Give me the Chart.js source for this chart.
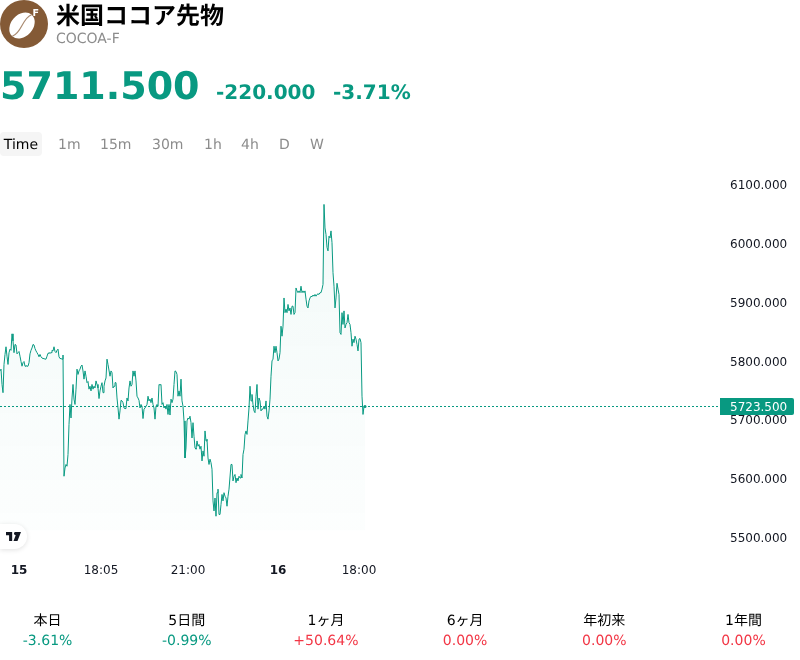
<!DOCTYPE html>
<html lang="ja">
<head>
<meta charset="utf-8">
<title>米国ココア先物</title>
<script src="https://cdn.jsdelivr.net/npm/chart.js@4"></script>
<style>
  html, body { margin: 0; padding: 0; background: #fff; }
  body { width: 800px; height: 660px; position: relative; overflow: hidden;
         font-family: "DejaVu Sans", "Noto Sans CJK JP", sans-serif; color: #000;
         text-rendering: geometricPrecision; }
  .abs { position: absolute; white-space: nowrap; will-change: transform; }
  #logo { left: 0; top: 0; }
  #title { left: 56px; top: 1px; font-size: 24px; line-height: 31px; font-weight: 700; }
  #ticker { left: 56px; top: 31px; font-size: 14px; line-height: 17px; color: #8c8c8c; }
  .quote { color: #089981; font-weight: 700; }
  #last { left: 0; top: 62px; font-size: 38px; line-height: 48px; }
  #chg { left: 216px; top: 79px; font-size: 20px; line-height: 26px; }
  #pct { left: 333px; top: 79px; font-size: 20px; line-height: 26px; }
  #tabs { left: 0; top: 132px; height: 24px; font-size: 14px; line-height: 26px; }
  #tabs span { position: absolute; top: 0; color: #8c8c8c; }
  #tabs span.on { left: 0; width: 42px; height: 24px; text-align: center; color: #000;
                  background: #f5f5f5; border-radius: 4px; }
  #chart { position: absolute; left: 0; top: 165px; }
  #tv { left: 0; top: 524px; width: 27px; height: 25px; background: #fff;
        border-radius: 0 13px 13px 0; box-shadow: 0 1px 5px rgba(0,0,0,.12); }
  #periods { left: -22px; top: 611px; width: 835px; display: flex; font-size: 14px; line-height: 20px; text-align: center; }
  #periods div { flex: 1; }
</style>
</head>
<body>
<svg id="logo" class="abs" width="48" height="48" viewBox="0 0 48 48">
  <circle cx="24" cy="24" r="24" fill="#845a36"/>
  <g transform="rotate(42 22 25.5)">
    <ellipse cx="22" cy="25.5" rx="11" ry="14.5" fill="#fff"/>
    <path d="M22 11 C17 20 27 31 22 40" fill="none" stroke="#a98a70" stroke-width="1.2"/>
  </g>
  <text x="32.5" y="16" font-family="DejaVu Sans" font-weight="700" font-size="9.5" fill="#fff">F</text>
</svg>
<div id="title" class="abs">米国ココア先物</div>
<div id="ticker" class="abs">COCOA-F</div>
<div id="last" class="abs quote">5711.500</div>
<div id="chg" class="abs quote">-220.000</div>
<div id="pct" class="abs quote">-3.71%</div>
<div id="tabs" class="abs"></div>
<canvas id="chart" width="794" height="415"></canvas>
<div id="tv" class="abs">
  <svg width="15" height="9" viewBox="0 0 17 10" style="position:absolute;left:6px;top:8px">
    <path d="M0 0H7V10H3.5V3.5H0Z M11.5 0H17L13 10H8.5L11 3.5 A2 2 0 0 1 9 1.7 A1.8 1.8 0 0 1 11.5 0Z" fill="#131722"/>
  </svg>
</div>
<div id="periods" class="abs"></div>

<script>
// tick labels and header rows
const yTicks = [5500, 5600, 5700, 5800, 5900, 6000, 6100];
const xTickBars = [19, 101, 188, 278, 359];
const xTickLabels = ['15', '18:05', '21:00', '16', '18:00'];
const xBoldLabels = ['15', '16'];
const intervals = ['Time', '1m', '15m', '30m', '1h', '4h', 'D', 'W'];
const intervalLeft = [0, 58, 100, 152, 204, 241, 279, 310];
const periodNames = ['本日', '5日間', '1ヶ月', '6ヶ月', '年初来', '1年間'];
const periodChanges = ['-3.61%', '-0.99%', '+50.64%', '0.00%', '0.00%', '0.00%'];

// one price per bar, session by session
const pricesOpen = [
  5784, 5787, 5761, 5747, 5795, 5812, 5825, 5809, 5795, 5815, 5821, 5819, 5847, 5835, 5815, 5829,
  5828, 5813, 5815, 5817, 5809, 5800, 5792, 5798, 5800, 5792, 5793, 5792, 5792, 5798, 5813, 5819,
  5823, 5829, 5828, 5822, 5818, 5815, 5812, 5808, 5812, 5808, 5806, 5805, 5805, 5804, 5804, 5809,
  5814, 5815, 5814, 5815, 5819, 5818, 5825, 5817, 5815, 5819, 5821, 5808, 5805, 5805, 5804, 5811
];
const pricesEvening = [
  5605, 5619, 5625, 5622, 5642, 5693, 5727, 5704, 5738, 5761, 5736, 5727, 5753, 5787, 5778, 5784,
  5787, 5792, 5794, 5784, 5770, 5784, 5775, 5764, 5766, 5753, 5758, 5750, 5761, 5753, 5758, 5755,
  5767, 5761, 5755, 5737, 5750, 5758, 5764, 5747, 5758, 5767, 5772, 5804, 5795, 5795, 5775, 5784,
  5781, 5755, 5758, 5764, 5764, 5738, 5721, 5702, 5716, 5734, 5733, 5730, 5721, 5720, 5721, 5738,
  5733, 5755, 5767,
  5758, 5761, 5784, 5775, 5784, 5767, 5741, 5738, 5734, 5721, 5727, 5724, 5703, 5719, 5721, 5724,
  5727, 5741, 5733, 5736, 5730, 5738, 5727, 5721, 5702, 5724, 5727, 5724, 5761, 5760, 5761, 5727,
  5730, 5721, 5724, 5719, 5727, 5710, 5727, 5709, 5736, 5730, 5736, 5761, 5784, 5783, 5778, 5741,
  5750, 5741, 5770, 5733, 5724, 5699, 5636, 5653, 5699, 5704, 5702, 5707, 5696, 5670, 5696, 5673,
  5653, 5651, 5665, 5656, 5659, 5651, 5656, 5631, 5648, 5639, 5682, 5665, 5668, 5636, 5625, 5634,
  5628, 5617
];
const pricesNight = [
  5563, 5546, 5568, 5537, 5577, 5583, 5540, 5540, 5557, 5574, 5563, 5577, 5571, 5568, 5554, 5571,
  5583, 5583, 5625, 5625, 5597, 5605, 5608, 5594, 5602, 5597, 5605, 5602, 5608, 5602, 5642, 5651,
  5676, 5682, 5676, 5699, 5721, 5758, 5733, 5744, 5727, 5716, 5713
];
const pricesNextDay = [
  5741, 5761, 5719, 5738, 5733, 5716, 5719, 5719, 5724, 5719, 5733, 5707, 5702, 5716, 5736, 5775,
  5801, 5804, 5826, 5815, 5826, 5815, 5801, 5804, 5815, 5860, 5843, 5860, 5908, 5883, 5889, 5883,
  5897, 5886, 5891, 5880, 5894, 5894, 5880, 5883, 5925, 5920, 5917, 5920, 5917, 5928, 5917, 5920,
  5917, 5920, 5906, 5894, 5891, 5903, 5908, 5911, 5910, 5913, 5911, 5914, 5911, 5914, 5915, 5914,
  5917, 5917, 5923, 5931, 6067, 6027, 6016, 5994, 5988, 6013, 6010, 6022, 6002, 5951, 5928, 5891,
  5908, 5933, 5923, 5914, 5849, 5846, 5883, 5863, 5886, 5857, 5863, 5866, 5880, 5866, 5863, 5849,
  5826, 5838, 5832, 5843, 5838, 5829, 5818, 5838, 5839, 5832, 5741, 5710, 5724, 5723.5
];
const prices = [...pricesOpen, ...pricesEvening, ...pricesNight, ...pricesNextDay];
const lastPrice = prices[prices.length - 1];

// axis window, wider than the data so the session has room to run
const barsOnAxis = 720;
const priceMin = 5474.5;
const priceMax = 6134;

const GREEN = '#089981';
const RED = '#f23645';

document.getElementById('tabs').innerHTML = intervals.map((name, i) =>
  `<span class="${i === 0 ? 'on' : ''}" style="left:${intervalLeft[i]}px">${name}</span>`).join('');

document.getElementById('periods').innerHTML = periodNames.map((name, i) =>
  `<div>${name}<br><span style="color:${periodChanges[i].startsWith('-') ? GREEN : RED}">${periodChanges[i]}</span></div>`).join('');

// price tag on the right axis, level with the dotted last-price line
const lastPriceTag = {
  id: 'lastPriceTag',
  afterDraw(chart) {
    const { ctx, scales } = chart;
    const y = scales.y.getPixelForValue(lastPrice);
    const left = chart.chartArea.right;
    ctx.save();
    ctx.fillStyle = GREEN;
    ctx.beginPath();
    ctx.roundRect(left, y - 8.5, 74, 17, [0, 2, 2, 0]);
    ctx.fill();
    ctx.fillStyle = '#fff';
    ctx.font = '12px "DejaVu Sans"';
    ctx.textBaseline = 'middle';
    ctx.fillText(lastPrice.toFixed(3), left + 10, y + 1.5);
    ctx.restore();
  }
};

// tick labels may overhang the plot; keep the plot flush with the canvas edges
function dropLabelOverhang(axis) {
  axis.paddingLeft = axis.paddingRight = axis.paddingTop = axis.paddingBottom = 0;
}

const canvas = document.getElementById('chart');
const ctx = canvas.getContext('2d');

// very light wash under the line that dies out just above the time axis
const areaFill = ctx.createLinearGradient(0, 30, 0, 366);
areaFill.addColorStop(0, 'rgba(8,153,129,0.05)');
areaFill.addColorStop(0.997, 'rgba(8,153,129,0.012)');
areaFill.addColorStop(1, 'rgba(8,153,129,0)');

new Chart(ctx, {
  type: 'line',
  data: {
    datasets: [
      {
        data: prices.map((p, i) => ({ x: i, y: p })),
        borderColor: GREEN,
        borderWidth: 1,
        backgroundColor: areaFill,
        fill: 'start',
        tension: 0,
        pointRadius: c => (c.dataIndex === prices.length - 1 ? 1.5 : 0),
        pointBackgroundColor: GREEN,
        pointBorderWidth: 0
      },
      {
        data: [{ x: 0, y: lastPrice }, { x: barsOnAxis, y: lastPrice }],
        borderColor: GREEN,
        borderWidth: 1,
        borderDash: [2, 2],
        pointRadius: 0,
        fill: false
      }
    ]
  },
  options: {
    responsive: false,
    animation: false,
    layout: { padding: 0, autoPadding: false },
    plugins: { legend: { display: false }, tooltip: { enabled: false } },
    scales: {
      x: {
        type: 'linear',
        min: 0,
        max: barsOnAxis,
        grid: { display: false, drawTicks: false },
        border: { display: false },
        afterBuildTicks: axis => { axis.ticks = xTickBars.map(v => ({ value: v })); },
        afterFit: axis => { axis.height = 27; dropLabelOverhang(axis); },
        ticks: {
          autoSkip: false,
          maxRotation: 0,
          padding: 11,
          color: '#131722',
          font: c => ({
            family: '"DejaVu Sans"',
            size: 12,
            weight: c.tick && xBoldLabels.includes(xTickLabels[xTickBars.indexOf(c.tick.value)]) ? 'bold' : 'normal'
          }),
          callback: value => xTickLabels[xTickBars.indexOf(value)]
        }
      },
      y: {
        position: 'right',
        min: priceMin,
        max: priceMax,
        grid: { display: false, drawTicks: false },
        border: { display: false },
        afterBuildTicks: axis => { axis.ticks = yTicks.map(v => ({ value: v })); },
        afterFit: axis => { axis.width = 74; dropLabelOverhang(axis); },
        ticks: {
          padding: 10,
          labelOffset: 1,
          color: '#131722',
          font: { family: '"DejaVu Sans"', size: 12 },
          callback: value => value.toFixed(3)
        }
      }
    }
  },
  plugins: [lastPriceTag]
});
</script>
</body>
</html>
